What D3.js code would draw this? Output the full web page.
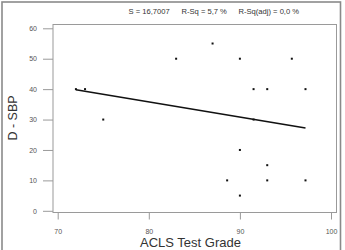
<!DOCTYPE html>
<html><head><meta charset="utf-8">
<script src="https://cdn.jsdelivr.net/npm/d3@7"></script>
<style>body{margin:0;background:#fff}svg{display:block}text{font-family:"Liberation Sans",Arial,sans-serif}</style>
</head><body><svg id="c" width="345" height="250"></svg>
<script>
const grade = [72, 73, 75, 83, 87, 90, 91.5, 93, 95.7, 97.2, 88.6, 90, 90, 93, 93, 97.2, 91.5];
const dsbp  = [40, 40, 30, 50, 55, 50, 40, 40, 50, 40, 10, 20, 5, 15, 10, 10, 30];
const fitX = [72, 97.2];
const fitY = [39.8, 27.2];
const xTicks = [70, 80, 90, 100];
const yTicks = [0, 10, 20, 30, 40, 50, 60];
const statLabels = ["S = 16,7007", "R-Sq = 5,7 %", "R-Sq(adj) = 0,0 %"];
const xTitle = "ACLS Test Grade", yTitle = "D - SBP";

const svg = d3.select("#c");
const x = d3.scaleLinear().domain([70, 100]).range([57.7, 331]);
const y = d3.scaleLinear().domain([0, 60]).range([210.8, 28.3]);

// outer frame
svg.append("rect").attr("x", 2).attr("y", 2).attr("width", 338.5).attr("height", 252)
  .attr("fill", "none").attr("stroke", "#8a8a8a").attr("stroke-width", 1.6);

// plot box
svg.append("rect").attr("x", 53).attr("y", 24.5).attr("width", 283.5).attr("height", 188)
  .attr("fill", "#fff").attr("stroke", "#9a9a9a").attr("stroke-width", 1);

// axes
const ya = svg.append("g").attr("transform", "translate(53,0)")
  .call(d3.axisLeft(y).tickValues(yTicks).tickSize(10).tickPadding(6));
const xa = svg.append("g").attr("transform", "translate(0,212.5)")
  .call(d3.axisBottom(x).tickValues(xTicks).tickSize(7).tickPadding(10));
[ya, xa].forEach(a => {
  a.select(".domain").remove();
  a.selectAll(".tick line").attr("stroke", "#9a9a9a");
  a.selectAll(".tick text").attr("fill", "#555").style("font-size", "7px");
});

// stats
const sx = [128.5, 181.5, 238.5];
svg.selectAll(".st").data(statLabels).join("text").attr("class", "st")
  .attr("x", (d, i) => sx[i]).attr("y", 14).attr("fill", "#333")
  .style("font-size", "7.6px").text(d => d);

// regression line
svg.append("line").attr("x1", x(fitX[0])).attr("y1", y(fitY[0]))
  .attr("x2", x(fitX[1])).attr("y2", y(fitY[1]))
  .attr("stroke", "#111").attr("stroke-width", 1.6);

// points
svg.selectAll(".pt").data(grade).join("rect").attr("class", "pt")
  .attr("x", (d) => x(d) - 1).attr("y", (d, i) => y(dsbp[i]) - 1)
  .attr("width", 2).attr("height", 2).attr("fill", "#111");

// titles
svg.append("text").attr("x", 190.5).attr("y", 247).attr("text-anchor", "middle")
  .attr("fill", "#333").style("font-size", "13px").text(xTitle);
svg.append("text").attr("transform", "translate(16.5,118) rotate(-90)").attr("text-anchor", "middle")
  .attr("fill", "#333").style("font-size", "12.5px").text(yTitle);
</script></body></html>
